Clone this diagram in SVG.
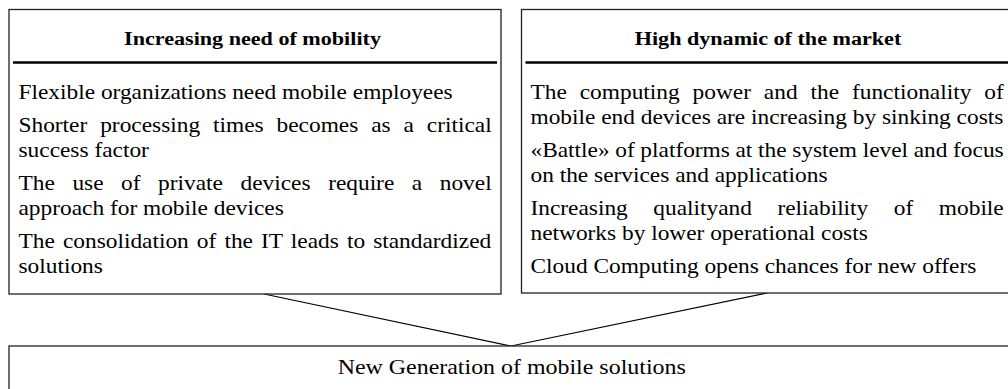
<svg xmlns="http://www.w3.org/2000/svg" width="1008" height="389" viewBox="0 0 1008 389">
  <style>
    .box { fill: #ffffff; stroke: #222222; stroke-width: 1.3; }
    .rule { stroke: #000000; stroke-width: 2.6; }
    .link { stroke: #000000; stroke-width: 1.2; fill: none; }
    .head { font-family: "Liberation Serif", "Times New Roman", serif; font-weight: bold; font-size: 19.4px; fill: #000000; text-anchor: middle; }
    .body { font-family: "Liberation Serif", "Times New Roman", serif; font-size: 20.5px; fill: #000000; }
    .main { font-family: "Liberation Serif", "Times New Roman", serif; font-size: 21px; fill: #000000; text-anchor: middle; }
  </style>

  <!-- links from both driver boxes down to the result box -->
  <g id="connectors">
    <line class="link" x1="264" y1="294" x2="511" y2="346"/>
    <line class="link" x1="767" y1="293" x2="511" y2="346"/>
  </g>

  <g id="node-mobility">
    <rect class="box" x="9" y="9.5" width="492" height="284.5"/>
    <line class="rule" x1="13" y1="62.5" x2="497" y2="62.5"/>
    <g transform="translate(252.5,0) scale(1.14,1)">
      <text class="head" x="0" y="45">Increasing need of mobility</text>
    </g>
    <g class="body" transform="translate(18.5,0) scale(1.14,1)">
      <text x="0" y="99">Flexible organizations need mobile employees</text>
      <text x="0" y="132" word-spacing="6.22">Shorter processing times becomes as a critical</text>
      <text x="0" y="157">success factor</text>
      <text x="0" y="190" word-spacing="10.29">The use of private devices require a novel</text>
      <text x="0" y="215">approach for mobile devices</text>
      <text x="0" y="248" word-spacing="1.99">The consolidation of the IT leads to standardized</text>
      <text x="0" y="273">solutions</text>
    </g>
  </g>

  <g id="node-market">
    <rect class="box" x="521.5" y="9.5" width="500" height="283.5"/>
    <line class="rule" x1="525.5" y1="62.5" x2="1010" y2="62.5"/>
    <g transform="translate(768,0) scale(1.14,1)">
      <text class="head" x="0" y="45">High dynamic of the market</text>
    </g>
    <g class="body" transform="translate(530.5,0) scale(1.14,1)">
      <text x="0" y="99" word-spacing="6.22">The computing power and the functionality of</text>
      <text x="0" y="124">mobile end devices are increasing by sinking costs</text>
      <text x="0" y="157" word-spacing="-0.18">«Battle» of platforms at the system level and focus</text>
      <text x="0" y="182">on the services and applications</text>
      <text x="0" y="215" word-spacing="17.3">Increasing qualityand reliability of mobile</text>
      <text x="0" y="240">networks by lower operational costs</text>
      <text x="0" y="273">Cloud Computing opens chances for new offers</text>
    </g>
  </g>

  <g id="node-solutions">
    <rect class="box" x="9" y="346" width="1010" height="60"/>
    <g transform="translate(511.7,0) scale(1.14,1)">
      <text class="main" x="0" y="374">New Generation of mobile solutions</text>
    </g>
  </g>
</svg>
